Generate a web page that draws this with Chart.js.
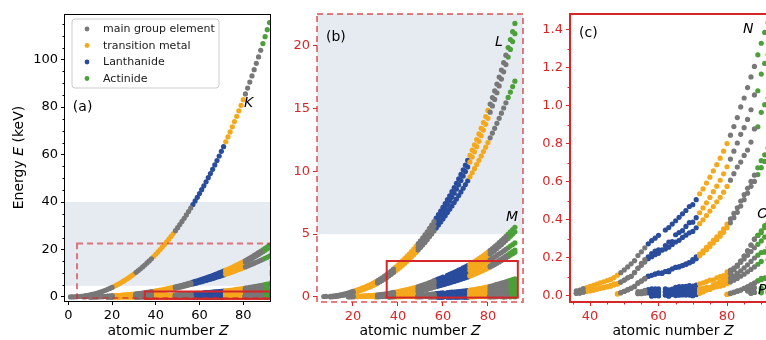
<!DOCTYPE html>
<html>
<head>
<meta charset="utf-8">
<title>Electron binding energies</title>
<script src="https://cdn.jsdelivr.net/npm/chart.js"></script>
<style>
  html, body { margin: 0; padding: 0; background: #fff; overflow: hidden; }
  #wrap { position: relative; width: 800px; height: 340px; }
  .panel { position: absolute; top: 0; }
</style>
</head>
<body>
<div id="wrap">
  <div class="panel" style="left:0px"><canvas id="chartA" width="280" height="340"></canvas></div>
  <div class="panel" style="left:280px"><canvas id="chartB" width="255" height="340"></canvas></div>
  <div class="panel" style="left:535px"><canvas id="chartC" width="255" height="340"></canvas></div>
</div>
<script>
// electron binding energies in eV; each list starts at the Z given in `shells` below
const K = [13.6, 24.6, 54.7, 111.5, 188, 284.2, 409.9, 543.1, 696.7, 870.2,
  1070.8, 1303, 1559.6, 1839, 2145.5, 2472, 2822.4, 3205.9, 3608.4, 4038.5,
  4492, 4966, 5465, 5989, 6539, 7112, 7709, 8333, 8979, 9659,
  10367, 11103, 11867, 12658, 13474, 14326, 15200, 16105, 17038, 17998,
  18986, 20000, 21044, 22117, 23220, 24350, 25514, 26711, 27940, 29200,
  30491, 31814, 33169, 34561, 35985, 37441, 38925, 40443, 41991, 43569,
  45184, 46834, 48519, 50239, 51996, 53789, 55618, 57486, 59390, 61332,
  63314, 65351, 67416, 69525, 71676, 73871, 76111, 78395, 80725, 83102,
  85530, 88005, 90526, 93105, 95730, 98404, 101137, 103922, 106755, 109651,
  112601, 115606];
const L1 = [37.3, 41.6, null, 48.5,
  63.5, 88.7, 117.8, 149.7, 189, 230.9, 270, 326.3, 378.6, 438.4,
  498, 560.9, 626.7, 696, 769.1, 844.6, 925.1, 1008.6, 1096.7, 1196.2,
  1299, 1414.6, 1527, 1652, 1782, 1921, 2065, 2216, 2373, 2532,
  2698, 2866, 3043, 3224, 3412, 3604, 3806, 4018, 4238, 4465,
  4698, 4939, 5188, 5453, 5714, 5989, 6266, 6549, 6835, 7126,
  7428, 7737, 8052, 8376, 8708, 9046, 9394, 9751, 10116, 10486,
  10870, 11271, 11682, 12100, 12527, 12968, 13419, 13880, 14353, 14839,
  15347, 15861, 16388, 16939, 17493, 18049, 18639, 19237, 19840, 20472,
  21105, 21757];
const L2 = [21.7,
  30.65, 49.78, 72.95, 99.82, 136, 163.6, 202, 250.6, 297.3, 349.7,
  403.6, 460.2, 519.8, 583.8, 649.9, 719.9, 793.2, 870, 952.3, 1044.9,
  1143.2, 1248.1, 1359.1, 1474.3, 1596, 1730.9, 1864, 2007, 2156, 2307,
  2465, 2625, 2793, 2967, 3146, 3330, 3524, 3727, 3938, 4156,
  4380, 4612, 4852, 5107, 5359, 5624, 5891, 6164, 6440, 6722,
  7013, 7312, 7617, 7930, 8252, 8581, 8918, 9264, 9617, 9978,
  10349, 10739, 11136, 11544, 11959, 12385, 12824, 13273, 13734, 14209,
  14698, 15200, 15711, 16244, 16785, 17337, 17907, 18484, 19083, 19693,
  20314, 20948];
const L3 = [21.6,
  30.81, 49.5, 72.55, 99.42, 135, 162.5, 200, 248.4, 294.6, 346.2,
  398.7, 453.8, 512.1, 574.1, 638.7, 706.8, 778.1, 852.7, 932.7, 1021.8,
  1116.4, 1217, 1323.6, 1433.9, 1550, 1678.4, 1804, 1940, 2080, 2223,
  2371, 2520, 2677, 2838, 3004, 3173, 3351, 3538, 3730, 3929,
  4132, 4341, 4557, 4786, 5012, 5247, 5483, 5723, 5964, 6208,
  6459, 6716, 6977, 7243, 7514, 7790, 8071, 8358, 8648, 8944,
  9244, 9561, 9881, 10207, 10535, 10871, 11215, 11564, 11919, 12284,
  12658, 13035, 13419, 13814, 14214, 14619, 15031, 15444, 15871, 16300,
  16733, 17166];
const M1 = [29.3, 34.8, 44.3,
  51.1, 58.7, 66.3, 74.1, 82.3, 91.3, 101, 110.8, 122.5, 139.8,
  159.5, 180.1, 204.7, 229.6, 257, 292.8, 326.7, 358.7, 392, 430.3,
  466.6, 506.3, 544, 586.1, 628.1, 671.6, 719, 772, 827.2, 884.7,
  946, 1006, 1072, 1148.7, 1211, 1293, 1362, 1436, 1511, 1575,
  null, 1723, 1800, 1881, 1968, 2047, 2128, 2207, 2307, 2398,
  2491, 2601, 2708, 2820, 2932, 3049, 3174, 3296, 3425, 3562,
  3704, 3851, 3999, 4149, 4317, 4482, 4652, 4822, 5002, 5182,
  5367, 5548];
const M2 = [15.9, 18.3, 25.4,
  28.3, 32.6, 37.2, 42.2, 47.2, 52.7, 58.9, 68, 77.3, 91.4,
  103.5, 124.9, 146.2, 166.5, 189, 222.2, 248.7, 280.3, 310.6, 343.5,
  376.1, 411.6, 447.6, 483.5, 521.3, 559.9, 603.8, 652.6, 703.2, 756.5,
  812.7, 870.8, 931, 1002.1, 1071, 1137, 1209, 1274, 1337, 1403,
  1471.4, 1541, 1614, 1688, 1768, 1842, 1923, 2006, 2090, 2173,
  2264, 2365, 2469, 2575, 2682, 2792, 2909, 3027, 3148, 3279,
  3416, 3554, 3696, 3854, 4008, 4159, 4327, 4490, 4656, 4830,
  5001, 5182];
const M3 = [15.7, 18.3, 25.4,
  28.3, 32.6, 37.2, 42.2, 47.2, 52.7, 59.9, 66.2, 75.1, 88.6,
  100, 120.8, 141.2, 160.7, 182, 214.4, 239.1, 270, 298.8, 329.8,
  360.6, 394, 417.7, 461.4, 496.5, 532.3, 573, 618.4, 665.3, 714.6,
  766.4, 820, 875, 940.6, 1003, 1063, 1128, 1187, 1242, 1297,
  1357, 1420, 1481, 1544, 1611, 1676, 1741, 1812, 1885, 1950,
  2024, 2108, 2194, 2281, 2367, 2457, 2551, 2645, 2743, 2847,
  2957, 3066, 3177, 3302, 3426, 3538, 3663, 3792, 3909, 4046,
  4174, 4303];
const M4 = [10.2,
  18.7, 29.8, 41.7, 55.5, 70, 95, 113, 136, 157.7, 181.1,
  205, 231.1, 257.6, 284.2, 311.9, 340.5, 374, 411.9, 451.4, 493.2,
  537.5, 583.4, 630.8, 689, 740.5, 795.7, 853, 902.4, 948.3, 1003.3,
  1052, 1110.9, 1158.6, 1221.9, 1276.9, 1333, 1392, 1453, 1515, 1576,
  1639, 1716, 1793, 1872, 1949, 2031, 2116, 2202, 2291, 2385,
  2485, 2586, 2688, 2798, 2909, 3022, 3136, 3248, 3370, 3491,
  3611, 3728];
const M5 = [10.1,
  18.7, 29.2, 41.7, 54.6, 69, 93.8, 112, 134.2, 155.8, 178.8,
  202.3, 227.9, 253.9, 280, 307.2, 335.2, 368.3, 405.2, 443.9, 484.9,
  528.2, 573, 619.3, 676.4, 726.6, 780.5, 836, 883.8, 928.8, 980.4,
  1027, 1083.4, 1127.5, 1189.6, 1241.1, 1292.6, 1351, 1409, 1468, 1528,
  1589, 1662, 1735, 1809, 1883, 1960, 2040, 2122, 2206, 2295,
  2389, 2484, 2580, 2683, 2787, 2892, 3000, 3105, 3219, 3332,
  3442, 3552];
const N1 = [27.5, 30.5, 38.9, 43.8, 50.6,
  56.4, 63.2, 69.5, 75, 81.4, 87.1, 97, 109.8, 122.9, 137.1,
  153.2, 169.4, 186, 213.2, 232.3, 253.5, 274.7, 291, 304.5, 319.2,
  null, 347.2, 360, 378.6, 396, 414.2, 432.4, 449.8, 470.9, 480.5,
  506.8, 538, 563.4, 594.1, 625.4, 658.2, 691.1, 725.4, 762.1, 802.2,
  846.2, 891.8, 939, 995, 1042, 1097, 1153, 1208, 1269, 1330,
  1387, 1439];
const N2 = [14.1, 16.3, 21.3, 24.4, 28.5,
  32.6, 37.6, 42.3, 46.3, 50.5, 55.7, 63.7, 63.9, 73.5, 83.6,
  95.6, 103.3, 123, 146.7, 172.4, 192, 205.8, 223.2, 236.3, 243.3,
  242, 265.6, 284, 286, 322.4, 333.5, 343.5, 366.2, 385.9, 388.7,
  412.4, 438.2, 463.4, 490.4, 518.7, 549.1, 577.8, 609.1, 642.7, 680.2,
  720.5, 761.9, 805.2, 851, 886, 929, 980, 1058, 1080, 1168,
  1224, 1271];
const N3 = [14.1, 15.3, 20.1, 23.1, 27.1,
  30.8, 35.5, 39.9, 43.2, 47.3, 50.9, 58.3, 63.9, 73.5, 83.6,
  95.6, 103.3, 123, 145.5, 161.3, 178.6, 196, 206.5, 217.6, 224.6,
  242, 247.4, 257, 271, 284.1, 293.2, 308.2, 320.2, 332.6, 339.7,
  359.2, 380.7, 400.9, 423.6, 446.8, 470.7, 495.8, 519.4, 546.3, 576.6,
  609.5, 643.5, 678.8, 705, 740, 768, 810, 879, 890, 966.4,
  1007, 1043];
const N4 = [11.7, 17.7, 24.9,
  33.3, 41.9, 50.6, 69.5, 79.8, 92.6, 105.3, 109, 115.1, 120.5,
  120, 129, 133, null, 150.5, 153.6, 160, 167.6, 175.5, 191.2,
  206.1, 220, 237.9, 255.9, 273.9, 293.1, 311.9, 331.6, 353.2, 378.2,
  405.7, 434.3, 464, 500, 533, 567, 603, 636, 675, 712.1,
  743, 778.3];
const N5 = [10.7, 16.9, 23.9,
  32.1, 40.4, 48.9, 67.5, 77.5, 89.9, 102.5, null, 115.1, 120.5,
  120, 129, 127.7, 142.6, 150.5, 153.6, 160, 167.6, 175.5, 182.4,
  196.3, 211.5, 226.4, 243.5, 260.5, 278.5, 296.3, 314.6, 335.1, 358.8,
  385, 412.2, 440.1, 473, 507, 541, 577, 603, 639, 675.2,
  708, 736.2];
const N6 = [0.1, 2, 1.5,
  null, 5.2, 0, 8.6, 7.7, 8, 8.6, null, null, 2.5,
  8.9, 15.9, 23.5, 33.6, 42.9, 53.4, 63.8, 74.5, 87.6, 104,
  122.2, 141.7, 162.3, 184, 210, 238, 268, 299, 319, 342.4,
  371, 388.2];
const N7 = [0.1, 2, 1.5,
  null, 5.2, 0, 8.6, 2.4, 4.3, 5.2, 4.7, 4.6, 1.3,
  7.5, 14.2, 21.6, 31.4, 40.5, 50.7, 60.8, 71.2, 84, 99.9,
  117.8, 136.9, 157, 184, 210, 238, 268, 299, 319, 333.1,
  360, 377.4];
const O1 = [23.3, 22.7, 30.3, 34.3, 37.8, 37.4, 37.5,
  null, 37.4, 32, 36, 45.6, 49.9, 49.3, 50.6, 54.7, 52,
  57.3, 64.2, 69.7, 75.6, 83, 84, 95.2, 101.7, 107.2, 127,
  136, 147, 159.3, 177, 195, 214, 234, 254, 272, 290,
  310, 321];
const O2 = [13.4, 14.2, 17, 19.3, 19.8, 22.3, 21.1,
  null, 21.3, 22, 28, 28.7, 26.3, 30.8, 31.4, 31.8, 30.3,
  33.6, 38, 42.2, 45.3, 45.6, 58, 63, 65.3, 74.2, 83.1,
  94.6, 106.4, 119, 132, 148, 164, 182, 200, 215, 229,
  232, 257];
const O3 = [12.1, 12.1, 14.8, 16.8, 17, 22.3, 21.1,
  null, 21.3, 22, 21, 22.6, 26.3, 24.1, 24.7, 25, 24.1,
  26.7, 29.9, 32.7, 36.8, 34.6, 44.5, 48, 51.7, 57.2, 64.5,
  73.5, 83.3, 92.6, 104, 115, 127, 140, 153, 167, 182,
  232, 192];
const O4 = [9.6, 14.7, 20.7, 26.9, 31, 40, 48, 58, 68, 80, 92.5, 94, 102.8];
const O5 = [7.8, 12.5, 18.1, 23.8, 31, 40, 48, 58, 68, 80, 85.4, 94, 94.2];
const P1 = [26, 34, 44, null, 41.4, null, 43.9];
const P2 = [15, 19, null, 24.5, null, 26.8];
const P3 = [15, 19, null, 16.6, null, 16.8];

// [shell letter, first Z, values]
const shells = [
  ['K', 1, K], ['L', 7, L1], ['L', 10, L2], ['L', 10, L3],
  ['M', 18, M1], ['M', 18, M2], ['M', 18, M3], ['M', 30, M4], ['M', 30, M5],
  ['N', 36, N1], ['N', 36, N2], ['N', 36, N3], ['N', 48, N4], ['N', 48, N5], ['N', 58, N6], ['N', 58, N7],
  ['O', 54, O1], ['O', 54, O2], ['O', 54, O3], ['O', 80, O4], ['O', 80, O5],
  ['P', 86, P1], ['P', 87, P2], ['P', 87, P3]
];

const categoryNames = ['main group element', 'transition metal', 'Lanthanide', 'Actinide'];
const categoryColors = ['#787878', '#f5a81c', '#2a4c9c', '#4ca038'];
const transitionZ = [[21, 30], [39, 48], [72, 80]];
const lanthanideZ = [57, 71];
const actinideZ = [89, 92];

// tick positions
const xTicksA = [0, 20, 40, 60, 80];
const yTicksA = [0, 20, 40, 60, 80, 100];
const yMinorA = [5, 10, 15, 25, 30, 35, 45, 50, 55, 65, 70, 75, 85, 90, 95, 105, 110, 115];
const xTicksB = [20, 40, 60, 80];
const yTicksB = [0, 5, 10, 15, 20];
const xTicksC = [40, 60, 80];
const yTicksC = [0, 0.2, 0.4, 0.6, 0.8, 1.0, 1.2, 1.4];
const xMinorC = [35, 45, 50, 55, 65, 70, 75, 85, 90];
const yMinorC = [0.1, 0.3, 0.5, 0.7, 0.9, 1.1, 1.3];

const FONT = "'DejaVu Sans', sans-serif";
const RED = '#d62728';
const RED_LIGHT = 'rgba(214,39,40,0.6)';
const BAND = '#e6ebf2';

function categoryOf(z) {
  if (z >= lanthanideZ[0] && z <= lanthanideZ[1]) return 2;
  if (z >= actinideZ[0] && z <= actinideZ[1]) return 3;
  if (transitionZ.some(([a, b]) => z >= a && z <= b)) return 1;
  return 0;
}

function buildDatasets(letters) {
  const pts = categoryNames.map(() => []);
  shells.forEach(([letter, z0, list]) => {
    if (!letters.includes(letter)) return;
    list.forEach((e, i) => {
      if (e === null) return;
      const z = z0 + i;
      pts[categoryOf(z)].push({ x: z, y: e / 1000 });
    });
  });
  return categoryNames.map((name, c) => ({
    label: name,
    data: pts[c],
    backgroundColor: categoryColors[c],
    pointRadius: 2.6,
    pointHoverRadius: 2.6,
    pointBorderWidth: 0,
    showLine: false,
    clip: 0
  }));
}

function font(size, italic) {
  return (italic ? 'italic ' : '') + size + 'px ' + FONT;
}

// draw text made of [string, italic] pieces
function drawParts(ctx, parts, x, y, size, align) {
  const widths = parts.map(([t, it]) => { ctx.font = font(size, it); return ctx.measureText(t).width; });
  const total = widths.reduce((a, b) => a + b, 0);
  let cx = align === 'center' ? x - total / 2 : x;
  ctx.textAlign = 'left';
  parts.forEach(([t, it], i) => {
    ctx.font = font(size, it);
    ctx.fillText(t, cx, y);
    cx += widths[i];
  });
}

function axis(min, max, ticks, color, size, isX, fmt) {
  return {
    type: 'linear',
    min: min,
    max: max,
    afterBuildTicks: s => { s.ticks = ticks.map(v => ({ value: v })); },
    afterFit: s => { if (isX) s.height = size; else s.width = size; },
    ticks: {
      color: color,
      font: { family: FONT, size: 13 },
      padding: 3,
      autoSkip: false,
      maxRotation: 0,
      callback: fmt || (v => String(v))
    },
    grid: { display: true, drawOnChartArea: false, drawTicks: true, tickLength: 4, tickColor: color, lineWidth: 1 },
    border: { display: false }
  };
}

function decor(p) {
  return {
    id: 'decor',
    beforeDatasetsDraw(chart) {
      const { ctx, chartArea: a, scales: { y } } = chart;
      if (!p.band) return;
      const top = Math.max(y.getPixelForValue(p.band[1]), a.top);
      const bot = Math.min(y.getPixelForValue(p.band[0]), a.bottom);
      ctx.save();
      ctx.fillStyle = BAND;
      ctx.fillRect(a.left, top, a.right - a.left, bot - top);
      ctx.restore();
    },
    afterDatasetsDraw(chart) {
      const { ctx, chartArea: a, scales: { x, y } } = chart;
      ctx.save();
      ctx.beginPath();
      ctx.rect(a.left, a.top, a.right - a.left, a.bottom - a.top);
      ctx.clip();
      (p.rects || []).forEach(r => {
        const x0 = x.getPixelForValue(r.x[0]), x1 = x.getPixelForValue(r.x[1]);
        const y0 = y.getPixelForValue(r.y[0]), y1 = y.getPixelForValue(r.y[1]);
        ctx.lineWidth = 2;
        ctx.strokeStyle = r.dashed ? RED_LIGHT : RED;
        ctx.setLineDash(r.dashed ? [6, 4] : []);
        ctx.strokeRect(x0, y1, x1 - x0, y0 - y1);
      });
      ctx.restore();

      // minor ticks
      ctx.save();
      ctx.strokeStyle = p.tickColor;
      ctx.lineWidth = 1;
      (p.xMinor || []).forEach(v => {
        const px = Math.round(x.getPixelForValue(v)) + 0.5;
        ctx.beginPath(); ctx.moveTo(px, a.bottom); ctx.lineTo(px, a.bottom + 2.5); ctx.stroke();
      });
      (p.yMinor || []).forEach(v => {
        const py = Math.round(y.getPixelForValue(v)) + 0.5;
        if (py < a.top || py > a.bottom) return;
        ctx.beginPath(); ctx.moveTo(a.left, py); ctx.lineTo(a.left - 2.5, py); ctx.stroke();
      });
      ctx.restore();

      // frame
      ctx.save();
      if (p.frame === 'black') {
        ctx.strokeStyle = '#000'; ctx.lineWidth = 1;
        ctx.strokeRect(a.left - 0.5, a.top + 0.5, a.right - a.left, a.bottom - a.top);
      } else {
        ctx.strokeStyle = p.frame === 'dashed' ? RED_LIGHT : RED;
        ctx.lineWidth = 2;
        ctx.setLineDash(p.frame === 'dashed' ? [6, 4] : []);
        ctx.strokeRect(a.left, a.top, a.right - a.left, a.bottom - a.top);
      }
      ctx.restore();

      // annotations
      ctx.save();
      ctx.fillStyle = '#000';
      ctx.textBaseline = 'alphabetic';
      (p.notes || []).forEach(n => {
        ctx.font = font(14, n.italic);
        ctx.textAlign = 'left';
        ctx.fillText(n.text, x.getPixelForValue(n.x), y.getPixelForValue(n.y));
      });

      // axis titles
      drawParts(ctx, [['atomic number ', false], ['Z', true]], (a.left + a.right) / 2, 335, 14, 'center');
      if (p.yTitle) {
        ctx.translate(23, (a.top + a.bottom) / 2);
        ctx.rotate(-Math.PI / 2);
        drawParts(ctx, [['Energy ', false], ['E', true], [' (keV)', false]], 0, 0, 14, 'center');
      }
      ctx.restore();

      if (p.legend) {
        const lx = a.left + 7, ly = a.top + 5, w = 147, h = 69, r = 3;
        ctx.save();
        ctx.beginPath();
        ctx.moveTo(lx + r, ly);
        ctx.arcTo(lx + w, ly, lx + w, ly + h, r);
        ctx.arcTo(lx + w, ly + h, lx, ly + h, r);
        ctx.arcTo(lx, ly + h, lx, ly, r);
        ctx.arcTo(lx, ly, lx + w, ly, r);
        ctx.closePath();
        ctx.fillStyle = 'rgba(255,255,255,0.8)';
        ctx.fill();
        ctx.strokeStyle = '#cccccc';
        ctx.lineWidth = 1;
        ctx.stroke();
        categoryNames.forEach((name, i) => {
          const cy = ly + 10 + i * 16.5;
          ctx.fillStyle = categoryColors[i];
          ctx.beginPath(); ctx.arc(lx + 15, cy, 2.4, 0, 2 * Math.PI); ctx.fill();
          ctx.fillStyle = '#1a1a1a';
          ctx.font = font(11, false);
          ctx.textBaseline = 'middle';
          ctx.fillText(name, lx + 31, cy + 0.5);
        });
        ctx.restore();
      }
    }
  };
}

function makePanel(id, cfg) {
  new Chart(document.getElementById(id), {
    type: 'scatter',
    data: { datasets: buildDatasets(cfg.shellLetters) },
    options: {
      responsive: false,
      animation: false,
      events: [],
      layout: { padding: { top: 14, right: cfg.padRight, left: 0, bottom: 0 } },
      scales: {
        x: axis(cfg.xRange[0], cfg.xRange[1], cfg.xTicks, cfg.tickColor, cfg.xHeight, true),
        y: axis(cfg.yRange[0], cfg.yRange[1], cfg.yTicks, cfg.tickColor, cfg.yWidth, false, cfg.yFmt)
      },
      plugins: { legend: { display: false }, tooltip: { enabled: false }, title: { display: false } }
    },
    plugins: [decor(cfg)]
  });
}

makePanel('chartA', {
  shellLetters: ['K', 'L', 'M', 'N', 'O', 'P'],
  xRange: [-1.5, 92.7], yRange: [-1.7, 119.2],
  xTicks: xTicksA, yTicks: yTicksA, yMinor: yMinorA,
  tickColor: '#000', frame: 'black',
  yWidth: 65, xHeight: 39, padRight: 9,
  band: [4.7, 40],
  rects: [
    { x: [4, 92.5], y: [-0.4, 22.5], dashed: true },
    { x: [35, 92.5], y: [-0.8, 2.3], dashed: false }
  ],
  notes: [
    { text: '(a)', x: 2.1, y: 78.3 },
    { text: 'K', x: 80.3, y: 80, italic: true }
  ],
  yTitle: true, legend: true
});

makePanel('chartB', {
  shellLetters: ['L', 'M', 'N', 'O', 'P'],
  xRange: [4, 95.6], yRange: [-0.4, 22.51],
  xTicks: xTicksB, yTicks: yTicksB,
  tickColor: RED, frame: 'dashed',
  yWidth: 37, xHeight: 38, padRight: 12,
  band: [5, 40],
  rects: [{ x: [35, 93.3], y: [-0.05, 2.86], dashed: false }],
  notes: [
    { text: '(b)', x: 8.0, y: 20.4 },
    { text: 'L', x: 83.1, y: 20.0, italic: true },
    { text: 'M', x: 88.0, y: 6.05, italic: true }
  ]
});

makePanel('chartC', {
  shellLetters: ['N', 'O', 'P'],
  xRange: [34.16, 94.3], yRange: [-0.0316, 1.484],
  xTicks: xTicksC, yTicks: yTicksC, xMinor: xMinorC, yMinor: yMinorC,
  yFmt: v => v.toFixed(1),
  tickColor: RED, frame: 'solid',
  yWidth: 35, xHeight: 38, padRight: 14,
  notes: [
    { text: '(c)', x: 36.8, y: 1.363 },
    { text: 'N', x: 84.7, y: 1.382, italic: true },
    { text: 'O', x: 88.8, y: 0.408, italic: true },
    { text: 'P', x: 89.05, y: 0.013, italic: true }
  ]
});
</script>
</body>
</html>
